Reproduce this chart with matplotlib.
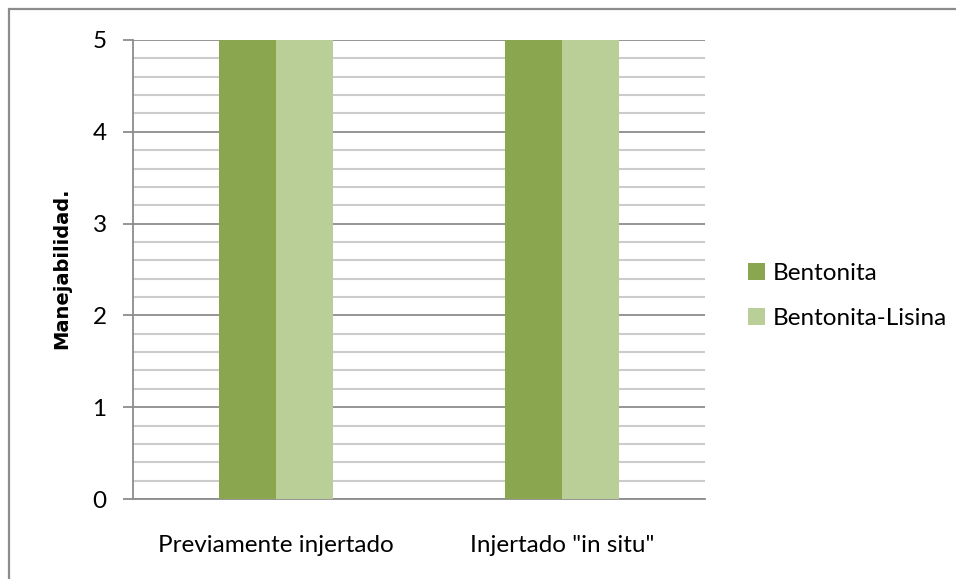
import matplotlib
matplotlib.use("Agg")
import matplotlib.pyplot as plt
from matplotlib.patches import Rectangle
import numpy as np

categories = ["Previamente injertado", "Injertado \"in situ\""]
series_names = ["Bentonita", "Bentonita-Lisina"]
bentonita = [5, 5]
bentonita_lisina = [5, 5]
y_ticks = [0, 1, 2, 3, 4, 5]

colors = ["#8AA64E", "#BACF97"]
label_font = "Lato"
fs = 17.5

fig = plt.figure(figsize=(9.56, 5.79), dpi=100)
fig.patch.set_facecolor("white")

# outer chart frame (top and left edges visible)
fig.patches.append(Rectangle((9 / 956, -0.1), 1.2, 1 - 9 / 579 + 0.1,
                             transform=fig.transFigure, fill=False,
                             edgecolor="#8c8c8c", linewidth=1.6))

ax = fig.add_axes([133 / 956, 1 - 499 / 579, (705 - 133) / 956, (499 - 40) / 579])

x = np.arange(len(categories))
w = 0.198
ax.bar(x - w / 2, bentonita, width=w, color=colors[0], label=series_names[0], zorder=3)
ax.bar(x + w / 2, bentonita_lisina, width=w, color=colors[1], label=series_names[1], zorder=3)

ax.set_xlim(-0.5, len(categories) - 0.5)
ax.set_ylim(0, 5)
ax.set_yticks(y_ticks)
ax.set_yticks(np.arange(0, 5.01, 0.2), minor=True)
ax.grid(which="major", axis="y", color="#8c8c8c", linewidth=1.3, zorder=1)
ax.grid(which="minor", axis="y", color="#cccccc", linewidth=1.5, zorder=1)
ax.set_axisbelow(True)

for s in ["top", "right"]:
    ax.spines[s].set_visible(False)
for s in ["left", "bottom"]:
    ax.spines[s].set_color("#8c8c8c")
    ax.spines[s].set_linewidth(1.3)

ax.tick_params(axis="y", which="major", length=7, width=1.3, color="#8c8c8c",
               labelsize=fs, pad=12)
ax.tick_params(axis="y", which="minor", length=0)
ax.tick_params(axis="x", length=0, labelsize=fs, pad=26)
ax.set_xticks(x)
ax.set_xticklabels(categories)
for lbl in ax.get_xticklabels() + ax.get_yticklabels():
    lbl.set_fontfamily(label_font)

fig.text(62 / 956, 1 - 268 / 579, "Manejabilidad.", rotation=90, ha="center", va="center",
         fontsize=14, fontweight="bold", family="DejaVu Sans")

leg = ax.legend(loc="center left", bbox_to_anchor=(736 / 956, 1 - 296 / 579),
                bbox_transform=fig.transFigure, frameon=False,
                prop={"family": label_font, "size": fs},
                handlelength=0.7, handleheight=0.7, handletextpad=0.3,
                labelspacing=0.95, borderpad=0)

fig.savefig("out.png", dpi=100, facecolor="white")
